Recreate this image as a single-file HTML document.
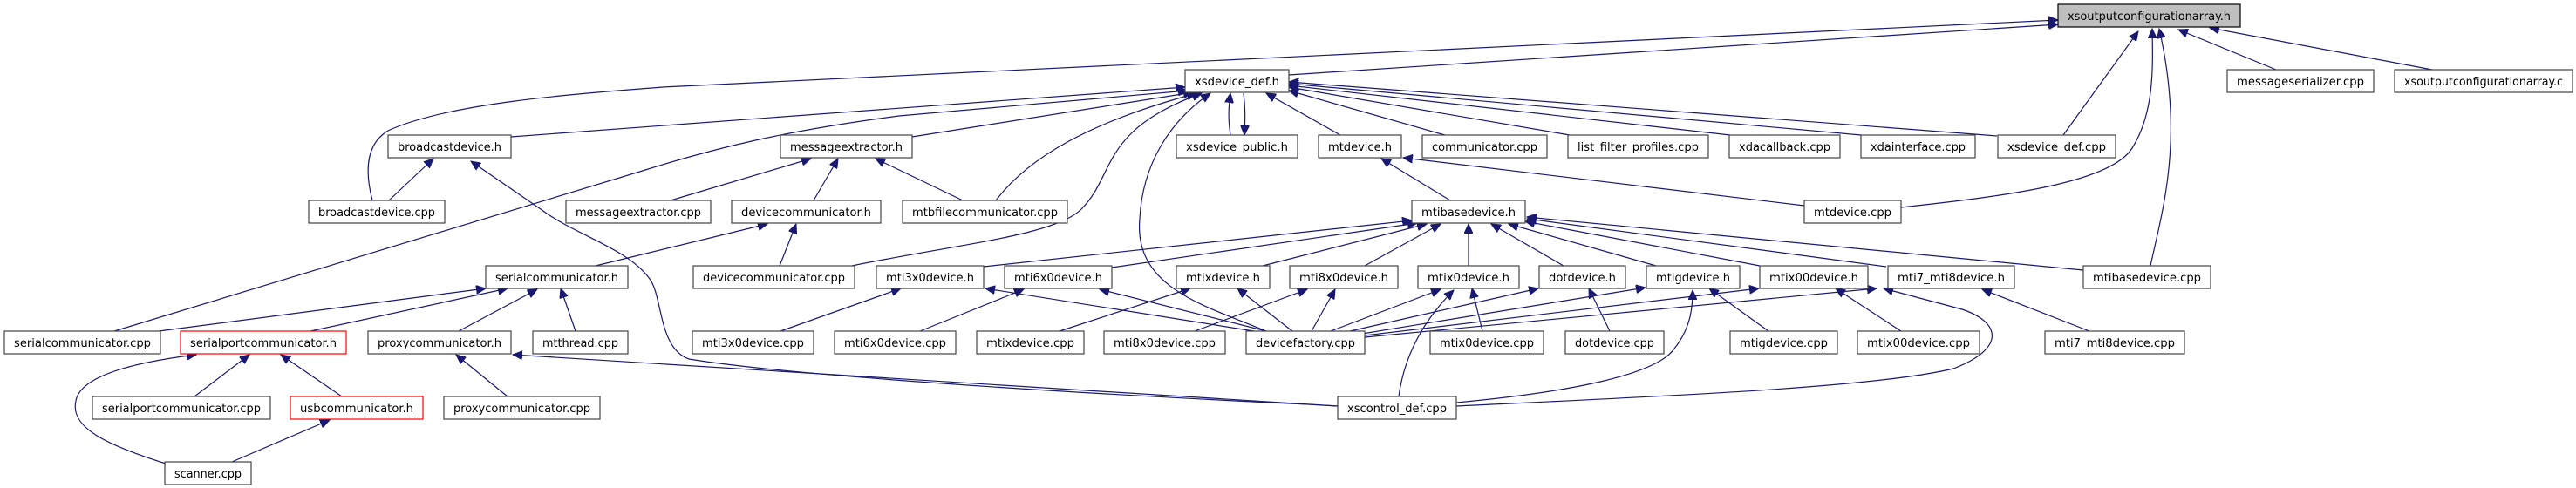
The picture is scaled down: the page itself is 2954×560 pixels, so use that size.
<!DOCTYPE html>
<html><head><meta charset="utf-8"><style>
html,body{margin:0;padding:0;background:#fff;}
svg{display:block;}
text{font-family:"DejaVu Sans Condensed","DejaVu Sans","Liberation Sans",sans-serif;font-size:13px;fill:#000;}
.e{fill:none;stroke:#191970;stroke-width:1.2;marker-end:url(#ah);}
.n{fill:#fff;stroke:#444;stroke-width:1.2;}
.r{fill:#fff;stroke:#ff0000;stroke-width:1.2;}
</style></head><body>
<svg width="2954" height="560" viewBox="0 0 2954 560" xmlns="http://www.w3.org/2000/svg">
<defs><marker id="ah" markerUnits="userSpaceOnUse" markerWidth="12" markerHeight="10" refX="11" refY="5" orient="auto"><path d="M0,0 L11,5 L0,10 z" fill="#191970" stroke="#191970"/></marker></defs>
<g>
<path class="e" d="M1478,86 L2360,28"/>
<path class="e" d="M427,230 C418,195 420,165 445,150 C520,115 700,105 760,100 L2360,23"/>
<path class="e" d="M2610,80 L2498,34"/>
<path class="e" d="M2789,80 L2534,32"/>
<path class="e" d="M2366,155 L2452,36"/>
<path class="e" d="M2180,238 C2300,225 2420,210 2445,170 C2470,130 2469,80 2468,33"/>
<path class="e" d="M2466,305 C2480,240 2505,160 2476,33"/>
<path class="e" d="M586,157 L1359,100"/>
<path class="e" d="M131,380 L740,195 C820,170 900,150 1031,133 L1362,104"/>
<path class="e" d="M1046,157 L1368,106"/>
<path class="e" d="M1142,230 C1180,180 1250,140 1372,107"/>
<path class="e" d="M977,305 C1100,280 1210,270 1240,240 C1280,200 1260,150 1378,107"/>
<path class="e" d="M1452,380 C1380,350 1300,330 1307,251 C1310,190 1340,140 1388,107"/>
<path class="e" d="M1411,155 C1408,135 1409,122 1411,107"/>
<path class="e" d="M1426,107 C1428,122 1428,135 1427,155"/>
<path class="e" d="M1537,155 L1452,107"/>
<path class="e" d="M1657,155 L1478,104"/>
<path class="e" d="M1800,155 L1478,100"/>
<path class="e" d="M1984,155 L1478,98"/>
<path class="e" d="M2134,155 L1478,96"/>
<path class="e" d="M2290,156 L1478,94"/>
<path class="e" d="M446,230 L497,182"/>
<path class="e" d="M1534,466 L1500,464 C1200,450 900,430 790,412 C755,400 760,340 745,320 C720,285 660,270 620,240 L540,185"/>
<path class="e" d="M1534,466 L588,407"/>
<path class="e" d="M769,230 L930,182"/>
<path class="e" d="M933,230 L961,182"/>
<path class="e" d="M1104,230 L1004,182"/>
<path class="e" d="M894,305 L913,257"/>
<path class="e" d="M683,305 L880,257"/>
<path class="e" d="M182,380 L557,331"/>
<path class="e" d="M356,380 L582,331"/>
<path class="e" d="M526,380 L616,332"/>
<path class="e" d="M660,380 L643,331"/>
<path class="e" d="M223,455 L286,407"/>
<path class="e" d="M392,455 L322,407"/>
<path class="e" d="M190,532 C120,510 80,490 87,460 C92,430 160,415 225,407"/>
<path class="e" d="M266,530 L378,482"/>
<path class="e" d="M582,455 L523,407"/>
<path class="e" d="M1663,230 L1584,182"/>
<path class="e" d="M2069,236 L1609,181"/>
<path class="e" d="M1128,306 L1619,253"/>
<path class="e" d="M1275,307 L1625,256"/>
<path class="e" d="M1448,305 L1636,257"/>
<path class="e" d="M1565,305 L1652,257"/>
<path class="e" d="M1684,305 L1684,257"/>
<path class="e" d="M1793,305 L1710,257"/>
<path class="e" d="M1899,305 L1730,257"/>
<path class="e" d="M2018,305 L1749,254"/>
<path class="e" d="M2163,306 L1751,251"/>
<path class="e" d="M2389,310 L1751,249"/>
<path class="e" d="M1438,380 L1130,331"/>
<path class="e" d="M1452,380 L1261,332"/>
<path class="e" d="M1482,380 L1419,331"/>
<path class="e" d="M1504,380 L1531,332"/>
<path class="e" d="M1526,380 L1652,332"/>
<path class="e" d="M1548,380 L1764,331"/>
<path class="e" d="M1562,383 L1887,330"/>
<path class="e" d="M1565,385 L2017,331"/>
<path class="e" d="M1565,387 L2152,331"/>
<path class="e" d="M1670,466 C1900,455 2150,445 2240,423 C2300,400 2295,370 2250,355 L2160,331"/>
<path class="e" d="M895,380 L1033,331"/>
<path class="e" d="M1055,380 L1174,332"/>
<path class="e" d="M1215,380 L1365,331"/>
<path class="e" d="M1370,380 L1499,332"/>
<path class="e" d="M1700,380 L1688,331"/>
<path class="e" d="M1604,455 C1610,410 1630,370 1667,333"/>
<path class="e" d="M1846,380 L1822,331"/>
<path class="e" d="M2028,380 L1960,331"/>
<path class="e" d="M1670,462 C1800,450 1900,430 1920,400 C1940,375 1941,350 1941,333"/>
<path class="e" d="M2180,380 L2105,331"/>
<path class="e" d="M2396,380 L2273,332"/>
</g>
<g>
<rect x="2360" y="5" width="209" height="26" fill="#bfbfbf" stroke="#000" stroke-width="1.2"/><text x="2464.5" y="23" text-anchor="middle" textLength="187" lengthAdjust="spacingAndGlyphs">xsoutputconfigurationarray.h</text>
<rect class="n" x="1359" y="80" width="119" height="26"/><text x="1418.5" y="98" text-anchor="middle" textLength="97" lengthAdjust="spacingAndGlyphs">xsdevice_def.h</text>
<rect class="n" x="2554" y="80" width="168" height="26"/><text x="2638" y="98" text-anchor="middle" textLength="146" lengthAdjust="spacingAndGlyphs">messageserializer.cpp</text>
<rect class="n" x="2746" y="80" width="204" height="26"/><text x="2848" y="98" text-anchor="middle" textLength="182" lengthAdjust="spacingAndGlyphs">xsoutputconfigurationarray.c</text>
<rect class="n" x="445" y="155" width="141" height="26"/><text x="515.5" y="173" text-anchor="middle" textLength="119" lengthAdjust="spacingAndGlyphs">broadcastdevice.h</text>
<rect class="n" x="895" y="155" width="151" height="26"/><text x="970.5" y="173" text-anchor="middle" textLength="129" lengthAdjust="spacingAndGlyphs">messageextractor.h</text>
<rect class="n" x="1349" y="155" width="139" height="26"/><text x="1418.5" y="173" text-anchor="middle" textLength="117" lengthAdjust="spacingAndGlyphs">xsdevice_public.h</text>
<rect class="n" x="1512" y="155" width="95" height="26"/><text x="1559.5" y="173" text-anchor="middle" textLength="73" lengthAdjust="spacingAndGlyphs">mtdevice.h</text>
<rect class="n" x="1631" y="155" width="143" height="26"/><text x="1702.5" y="173" text-anchor="middle" textLength="121" lengthAdjust="spacingAndGlyphs">communicator.cpp</text>
<rect class="n" x="1798" y="155" width="161" height="26"/><text x="1878.5" y="173" text-anchor="middle" textLength="139" lengthAdjust="spacingAndGlyphs">list_filter_profiles.cpp</text>
<rect class="n" x="1983" y="155" width="127" height="26"/><text x="2046.5" y="173" text-anchor="middle" textLength="105" lengthAdjust="spacingAndGlyphs">xdacallback.cpp</text>
<rect class="n" x="2134" y="155" width="131" height="26"/><text x="2199.5" y="173" text-anchor="middle" textLength="109" lengthAdjust="spacingAndGlyphs">xdainterface.cpp</text>
<rect class="n" x="2291" y="155" width="135" height="26"/><text x="2358.5" y="173" text-anchor="middle" textLength="113" lengthAdjust="spacingAndGlyphs">xsdevice_def.cpp</text>
<rect class="n" x="354" y="230" width="156" height="26"/><text x="432" y="248" text-anchor="middle" textLength="134" lengthAdjust="spacingAndGlyphs">broadcastdevice.cpp</text>
<rect class="n" x="649" y="230" width="166" height="26"/><text x="732" y="248" text-anchor="middle" textLength="144" lengthAdjust="spacingAndGlyphs">messageextractor.cpp</text>
<rect class="n" x="839" y="230" width="171" height="26"/><text x="924.5" y="248" text-anchor="middle" textLength="149" lengthAdjust="spacingAndGlyphs">devicecommunicator.h</text>
<rect class="n" x="1035" y="230" width="189" height="26"/><text x="1129.5" y="248" text-anchor="middle" textLength="167" lengthAdjust="spacingAndGlyphs">mtbfilecommunicator.cpp</text>
<rect class="n" x="1619" y="230" width="130" height="26"/><text x="1684" y="248" text-anchor="middle" textLength="108" lengthAdjust="spacingAndGlyphs">mtibasedevice.h</text>
<rect class="n" x="2069" y="230" width="111" height="26"/><text x="2124.5" y="248" text-anchor="middle" textLength="89" lengthAdjust="spacingAndGlyphs">mtdevice.cpp</text>
<rect class="n" x="557" y="305" width="163" height="26"/><text x="638.5" y="323" text-anchor="middle" textLength="141" lengthAdjust="spacingAndGlyphs">serialcommunicator.h</text>
<rect class="n" x="795" y="305" width="185" height="26"/><text x="887.5" y="323" text-anchor="middle" textLength="163" lengthAdjust="spacingAndGlyphs">devicecommunicator.cpp</text>
<rect class="n" x="1005" y="305" width="123" height="26"/><text x="1066.5" y="323" text-anchor="middle" textLength="101" lengthAdjust="spacingAndGlyphs">mti3x0device.h</text>
<rect class="n" x="1152" y="305" width="123" height="26"/><text x="1213.5" y="323" text-anchor="middle" textLength="101" lengthAdjust="spacingAndGlyphs">mti6x0device.h</text>
<rect class="n" x="1349" y="305" width="107" height="26"/><text x="1402.5" y="323" text-anchor="middle" textLength="85" lengthAdjust="spacingAndGlyphs">mtixdevice.h</text>
<rect class="n" x="1479" y="305" width="124" height="26"/><text x="1541" y="323" text-anchor="middle" textLength="102" lengthAdjust="spacingAndGlyphs">mti8x0device.h</text>
<rect class="n" x="1626" y="305" width="116" height="26"/><text x="1684" y="323" text-anchor="middle" textLength="94" lengthAdjust="spacingAndGlyphs">mtix0device.h</text>
<rect class="n" x="1765" y="305" width="99" height="26"/><text x="1814.5" y="323" text-anchor="middle" textLength="77" lengthAdjust="spacingAndGlyphs">dotdevice.h</text>
<rect class="n" x="1888" y="305" width="107" height="26"/><text x="1941.5" y="323" text-anchor="middle" textLength="85" lengthAdjust="spacingAndGlyphs">mtigdevice.h</text>
<rect class="n" x="2018" y="305" width="124" height="26"/><text x="2080" y="323" text-anchor="middle" textLength="102" lengthAdjust="spacingAndGlyphs">mtix00device.h</text>
<rect class="n" x="2165" y="305" width="145" height="26"/><text x="2237.5" y="323" text-anchor="middle" textLength="123" lengthAdjust="spacingAndGlyphs">mti7_mti8device.h</text>
<rect class="n" x="2389" y="305" width="146" height="26"/><text x="2462" y="323" text-anchor="middle" textLength="124" lengthAdjust="spacingAndGlyphs">mtibasedevice.cpp</text>
<rect class="n" x="5" y="380" width="179" height="26"/><text x="94.5" y="398" text-anchor="middle" textLength="157" lengthAdjust="spacingAndGlyphs">serialcommunicator.cpp</text>
<rect class="r" x="207" y="380" width="190" height="26"/><text x="302" y="398" text-anchor="middle" textLength="168" lengthAdjust="spacingAndGlyphs">serialportcommunicator.h</text>
<rect class="n" x="422" y="380" width="164" height="26"/><text x="504" y="398" text-anchor="middle" textLength="142" lengthAdjust="spacingAndGlyphs">proxycommunicator.h</text>
<rect class="n" x="611" y="380" width="109" height="26"/><text x="665.5" y="398" text-anchor="middle" textLength="87" lengthAdjust="spacingAndGlyphs">mtthread.cpp</text>
<rect class="n" x="794" y="380" width="139" height="26"/><text x="863.5" y="398" text-anchor="middle" textLength="117" lengthAdjust="spacingAndGlyphs">mti3x0device.cpp</text>
<rect class="n" x="957" y="380" width="139" height="26"/><text x="1026.5" y="398" text-anchor="middle" textLength="117" lengthAdjust="spacingAndGlyphs">mti6x0device.cpp</text>
<rect class="n" x="1120" y="380" width="123" height="26"/><text x="1181.5" y="398" text-anchor="middle" textLength="101" lengthAdjust="spacingAndGlyphs">mtixdevice.cpp</text>
<rect class="n" x="1266" y="380" width="139" height="26"/><text x="1335.5" y="398" text-anchor="middle" textLength="117" lengthAdjust="spacingAndGlyphs">mti8x0device.cpp</text>
<rect class="n" x="1429" y="380" width="136" height="26"/><text x="1497" y="398" text-anchor="middle" textLength="114" lengthAdjust="spacingAndGlyphs">devicefactory.cpp</text>
<rect class="n" x="1640" y="380" width="130" height="26"/><text x="1705" y="398" text-anchor="middle" textLength="108" lengthAdjust="spacingAndGlyphs">mtix0device.cpp</text>
<rect class="n" x="1795" y="380" width="113" height="26"/><text x="1851.5" y="398" text-anchor="middle" textLength="91" lengthAdjust="spacingAndGlyphs">dotdevice.cpp</text>
<rect class="n" x="1984" y="380" width="123" height="26"/><text x="2045.5" y="398" text-anchor="middle" textLength="101" lengthAdjust="spacingAndGlyphs">mtigdevice.cpp</text>
<rect class="n" x="2130" y="380" width="140" height="26"/><text x="2200" y="398" text-anchor="middle" textLength="118" lengthAdjust="spacingAndGlyphs">mtix00device.cpp</text>
<rect class="n" x="2345" y="380" width="160" height="26"/><text x="2425" y="398" text-anchor="middle" textLength="138" lengthAdjust="spacingAndGlyphs">mti7_mti8device.cpp</text>
<rect class="n" x="106" y="455" width="204" height="26"/><text x="208" y="473" text-anchor="middle" textLength="182" lengthAdjust="spacingAndGlyphs">serialportcommunicator.cpp</text>
<rect class="r" x="333" y="455" width="152" height="26"/><text x="409" y="473" text-anchor="middle" textLength="130" lengthAdjust="spacingAndGlyphs">usbcommunicator.h</text>
<rect class="n" x="509" y="455" width="179" height="26"/><text x="598.5" y="473" text-anchor="middle" textLength="157" lengthAdjust="spacingAndGlyphs">proxycommunicator.cpp</text>
<rect class="n" x="1534" y="455" width="136" height="26"/><text x="1602" y="473" text-anchor="middle" textLength="114" lengthAdjust="spacingAndGlyphs">xscontrol_def.cpp</text>
<rect class="n" x="189" y="530" width="99" height="26"/><text x="238.5" y="548" text-anchor="middle" textLength="77" lengthAdjust="spacingAndGlyphs">scanner.cpp</text>
</g>
</svg>
</body></html>
